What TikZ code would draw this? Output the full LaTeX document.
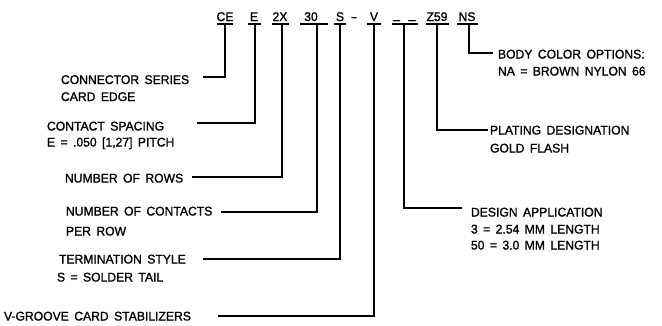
\documentclass[tikz,border=0pt]{standalone}
\usepackage{fontspec}
\setmainfont{Liberation Sans}[FakeBold=1.3,WordSpace=1.6,FakeStretch=0.965]
\begin{document}
\begin{tikzpicture}[x=1pt,y=-1pt,
  every node/.style={inner sep=0pt,outer sep=0pt,font=\fontsize{12.6}{14}\selectfont},
  tok/.style={anchor=base},
  lbl/.style={anchor=base west},
  ln/.style={line width=1.5pt,line cap=butt,line join=miter}]
\useasboundingbox (0,0) rectangle (662,325);
% top part number tokens (baseline at y=21)
\node[tok] (tCE) at (225,21) {CE};
\node[tok] (tE) at (254,21) {E};
\node[tok] (t2X) at (280,21) {2X};
\node[tok] (t30) at (311,21) {30};
\node[tok] (tS) at (340,21) {S};
\node[tok] (tdash) at (354,21) {\scalebox{1.6}[1]{-}};
\node[tok] (tV) at (374,21) {V};
\node[tok] (tu1) at (396.5,18.5) {\_};
\node[tok] (tu2) at (412,18.5) {\_};
\node[tok] (tZ) at (437,21) {Z59};
\node[tok] (tNS) at (467,21) {NS};
% underlines
\draw[ln] (217,24) -- (233,24);
\draw[ln] (248,24) -- (261,24);
\draw[ln] (272,24) -- (289,24);
\draw[ln] (300,24) -- (328,24);
\draw[ln] (334,24) -- (346,24);
\draw[ln] (367,24) -- (381,24);
\draw[ln] (392,24) -- (418,24);
\draw[ln] (426,24) -- (449,24);
\draw[ln] (457,24) -- (478,24);
% left labels
\node[lbl] (l1) at (61,84) {CONNECTOR SERIES};
\node[lbl] (l1b) at (61,101) {CARD EDGE};
\node[lbl] (l2) at (47,130.5) {CONTACT SPACING};
\node[lbl] (l2b) at (47,146.5) {E = .050 [1,27] PITCH};
\node[lbl] (l3) at (65,182.5) {NUMBER OF ROWS};
\node[lbl] (l4) at (66,215.5) {NUMBER OF CONTACTS};
\node[lbl] (l4b) at (66,235.5) {PER ROW};
\node[lbl] (l5) at (59,263.5) {TERMINATION STYLE};
\node[lbl] (l5b) at (57,281.5) {S = SOLDER TAIL};
\node[lbl] (l6) at (4,320.5) {V-GROOVE CARD STABILIZERS};
% right labels
\node[lbl] (r1) at (498,58.5) {BODY COLOR OPTIONS:};
\node[lbl] (r1b) at (498,75.5) {NA = BROWN NYLON 66};
\node[lbl] (r2) at (490,134.5) {PLATING DESIGNATION};
\node[lbl] (r2b) at (490,152.5) {GOLD FLASH};
\node[lbl] (r3) at (471,216.5) {DESIGN APPLICATION};
\node[lbl] (r3b) at (471,233.5) {3 = 2.54 MM LENGTH};
\node[lbl] (r3c) at (471,249.5) {50 = 3.0 MM LENGTH};
% connector ends
\coordinate (e1) at (203,77);
\coordinate (e2) at (197,123);
\coordinate (e3) at (192,177);
\coordinate (e4) at (221,212);
\coordinate (e5) at (203,259);
\coordinate (e6) at (218,316);
\coordinate (e7) at (462,208);
\coordinate (e8) at (488,130);
\coordinate (e9) at (493,53);
% connectors
\draw[ln] (tCE.south |- 0,24) |- (e1);
\draw[ln] (255,24) |- (e2);
\draw[ln] (282,24) |- (e3);
\draw[ln] (317,24) |- (e4);
\draw[ln] (tS.south |- 0,24) |- (e5);
\draw[ln] (tV.south |- 0,24) |- (e6);
\draw[ln] (404,24) |- (e7);
\draw[ln] (tZ.south |- 0,24) |- (e8);
\draw[ln] (469,24) |- (e9);
\end{tikzpicture}
\end{document}
